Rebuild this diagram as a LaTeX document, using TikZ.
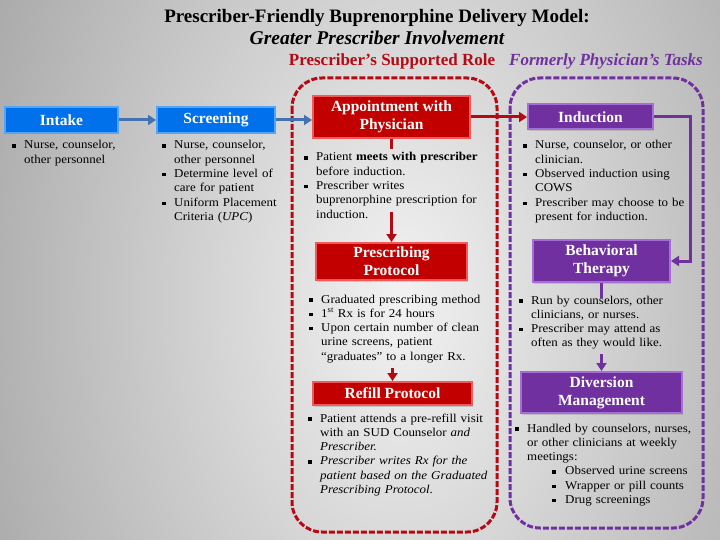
\documentclass[tikz,border=0pt]{standalone}
\usepackage{fontspec}
\setmainfont{Liberation Serif}
\newfontfamily\bodyfont[FakeStretch=1.08,Ligatures=TeX]{Liberation Serif}
\usetikzlibrary{arrows.meta,calc,shadows}
\definecolor{bgin}{RGB}{242,242,242}
\definecolor{bgout}{RGB}{120,120,120}
\definecolor{blueFill}{RGB}{0,112,235}
\definecolor{blueEdge}{RGB}{80,165,255}
\definecolor{blueLine}{RGB}{68,114,176}
\definecolor{redFill}{RGB}{195,0,0}
\definecolor{redEdge}{RGB}{240,90,90}
\definecolor{redLine}{RGB}{180,10,20}
\definecolor{purFill}{RGB}{112,48,160}
\definecolor{purEdge}{RGB}{165,110,215}
\definecolor{purLine}{RGB}{112,48,160}
\newcommand{\bitem}[1]{\hangindent=12pt\hangafter=1\noindent\hbox to 12pt{\rule[1.3pt]{3.3pt}{3.3pt}\hss}#1\par}
\newcommand{\bsub}[1]{\hangindent=50pt\hangafter=1\noindent\hspace*{37pt}\hbox to 13pt{\rule[1.3pt]{3.3pt}{3.3pt}\hss}#1\par}
\tikzset{
  hd/.style={rectangle, font=\fontsize{15.5}{18}\selectfont\bfseries, text=white, align=center,
    inner sep=0pt, line width=2pt, drop shadow={shadow xshift=1pt, shadow yshift=-1.5pt, opacity=.3}},
  bluebox/.style={hd, fill=blueFill, draw=blueEdge},
  redbox/.style={hd, fill=redFill, draw=redEdge},
  purbox/.style={hd, fill=purFill, draw=purEdge},
  bodytext/.style={anchor=base west, inner sep=0pt, align=left, text width=200pt,
    font=\bodyfont\fontsize{12}{14.3}\selectfont},
  conn/.style={line width=3pt},
  blueconn/.style={conn, draw=blueLine, -{Triangle[length=8pt,width=10pt]}},
  redconn/.style={conn, draw=redLine, -{Triangle[length=8pt,width=10pt]}},
  purconn/.style={conn, draw=purLine, -{Triangle[length=8pt,width=10pt]}},
  redseg/.style={conn, draw=redLine},
  purseg/.style={conn, draw=purLine},
  grp/.style={line width=3pt, dash pattern=on 6pt off 2pt, rounded corners=30pt},
}
\begin{document}
\begin{tikzpicture}[x=1pt,y=-1pt]
\useasboundingbox (0,0) rectangle (720,540);
\begin{scope}
  \clip (0,0) rectangle (720,540);
  \shade[inner color=bgin, outer color=bgout] (-360,-900) rectangle (1160,1500);
\end{scope}

% titles
\node[font=\fontsize{19}{22}\selectfont\bfseries] (title1) at (377,18) {Prescriber-Friendly Buprenorphine Delivery Model:};
\node[font=\fontsize{19.5}{22}\selectfont\bfseries\itshape] (title2) at (377,38) {Greater Prescriber Involvement};
\node[text=redLine, font=\fontsize{17}{19}\selectfont\bfseries] (role) at (392,61) {Prescriber’s Supported Role};
\node[text=purLine, font=\fontsize{17}{19}\selectfont\bfseries\itshape] (tasks) at (606,61) {Formerly Physician’s Tasks};

% group frames
\draw[grp, draw=redLine] (292,78) rectangle (497,532);
\draw[grp, draw=purLine] (510,78) rectangle (703,528);

% boxes
\node[bluebox, minimum width=113pt, minimum height=26pt] (intake) at (61.5,120) {Intake};
\node[bluebox, minimum width=118pt, minimum height=26pt] (screening) at (216,120) {Screening};
\node[redbox, minimum width=157pt, minimum height=42pt] (appt) at (391.5,117) {Appointment with\\Physician};
\node[redbox, minimum width=151pt, minimum height=37pt] (presc) at (391.5,261.5) {Prescribing\\Protocol};
\node[redbox, minimum width=159pt, minimum height=23pt] (refill) at (392.5,393.5) {Refill Protocol};
\node[purbox, minimum width=125pt, minimum height=25pt] (induct) at (590.5,117) {Induction};
\node[purbox, minimum width=137pt, minimum height=42pt] (behav) at (601.5,261) {Behavioral\\Therapy};
\node[purbox, minimum width=161pt, minimum height=41pt] (divers) at (601.5,392.5) {Diversion\\Management};

% texts
\node[bodytext] (intaketxt) at (12,149) {\bitem{Nurse, counselor,\newline other personnel}};
\node[bodytext] (screentxt) at (162,149) {\bitem{Nurse, counselor,\newline other personnel}\bitem{Determine level of\newline care for patient}\bitem{Uniform Placement\newline Criteria (\textit{UPC})}};
\node[bodytext] (appttxt) at (304,161) {\bitem{Patient \textbf{meets with prescriber}\newline before induction.}\bitem{Prescriber writes\newline buprenorphine prescription for\newline induction.}};
\node[bodytext] (presctxt) at (309,303) {\bitem{Graduated prescribing method}\bitem{1\textsuperscript{st} Rx is for 24 hours}\bitem{Upon certain number of clean\newline urine screens, patient\newline “graduates” to a longer Rx.}};
\node[bodytext] (refilltxt) at (308,422) {\bitem{Patient attends a pre-refill visit\newline with an SUD Counselor \textit{and}\newline \textit{Prescriber.}}\bitem{\textit{Prescriber writes Rx for the\newline patient based on the Graduated\newline Prescribing Protocol.}}};
\node[bodytext] (inducttxt) at (523,149) {\bitem{Nurse, counselor, or other\newline clinician.}\bitem{Observed induction using\newline COWS}\bitem{Prescriber may choose to be\newline present for induction.}};
\node[bodytext] (behavtxt) at (519,304) {\bitem{Run by counselors, other\newline clinicians, or nurses.}\bitem{Prescriber may attend as\newline often as they would like.}};
\node[bodytext] (diverstxt) at (515,432) {\bitem{Handled by counselors, nurses,\newline or other clinicians at weekly\newline meetings:}\bsub{Observed urine screens}\bsub{Wrapper or pill counts}\bsub{Drug screenings}};

% connectors
\draw[blueconn] (intake.east) -- (screening.west);
\draw[blueconn] (screening.east) -- (screening.east -| appt.west);
\draw[redconn] (appt.east) -- (induct.west);
\draw[purconn] (induct.east) -- ++(36,0) |- (behav.east);
\draw[redseg] (appt.south) -- ++(0,10);
\draw[redconn] (presc.north) ++(0,-30) -- (presc.north);
\draw[redconn] (refill.north) ++(0,-13) -- (refill.north);
\draw[purseg] (behav.south) -- ++(0,15);
\draw[purconn] (divers.north) ++(0,-17) -- (divers.north);
\end{tikzpicture}
\end{document}
